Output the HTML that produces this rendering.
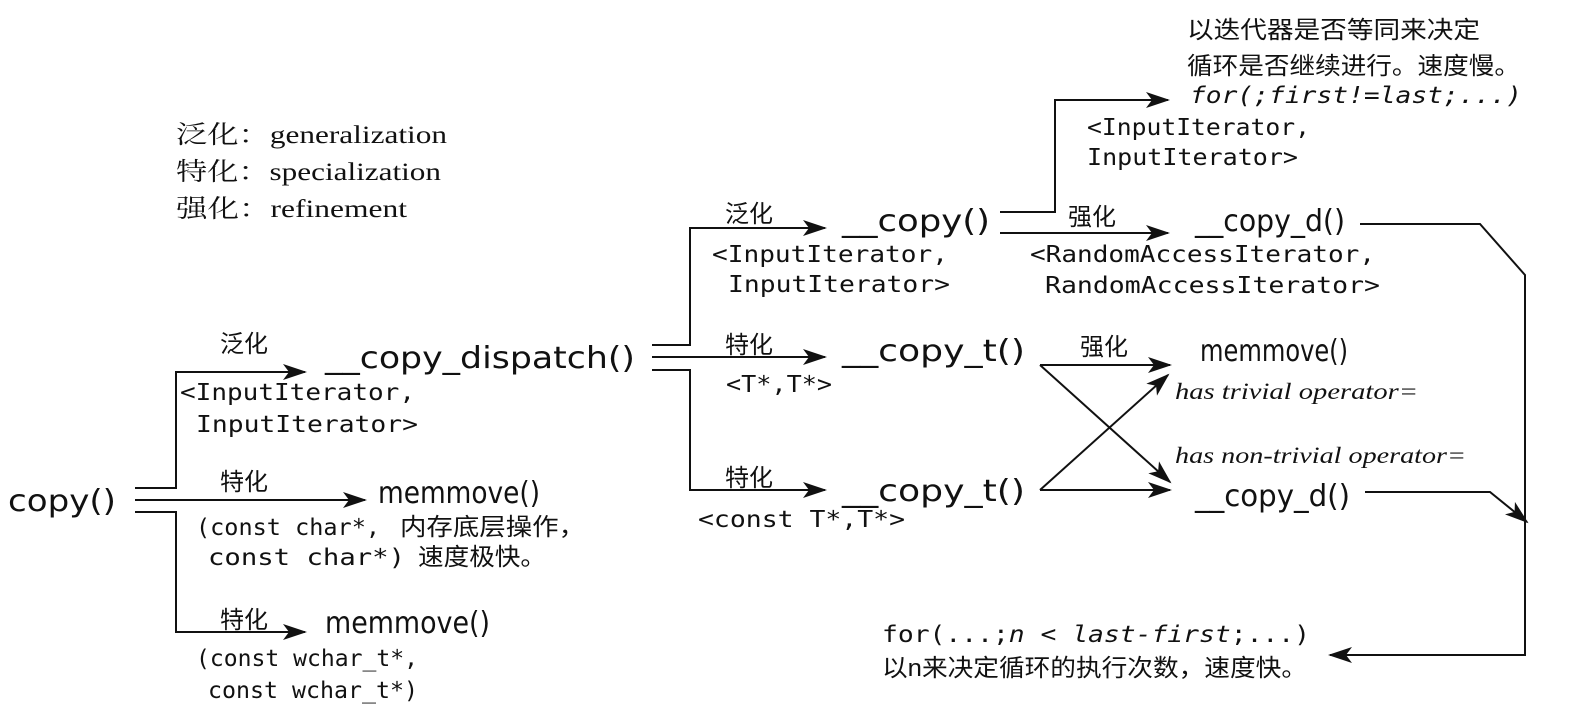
<!DOCTYPE html>
<html><head><meta charset="utf-8"><style>
html,body{margin:0;padding:0;background:#fff;}
svg{display:block}
.c{font-family:"DejaVu Sans Condensed","Liberation Sans",sans-serif;font-size:30px;fill:#111}
.m{font-family:"DejaVu Sans Mono","Liberation Mono",monospace;font-size:23px;fill:#111}
.z{font-family:"Liberation Sans","Noto Sans CJK SC",sans-serif;font-size:24px;fill:#111}
.s{font-family:"Liberation Serif",serif;font-style:italic;font-size:23px;fill:#111}
.l{font-family:"Liberation Serif","Noto Serif CJK SC",serif;font-size:25px;fill:#111}
line,polyline{stroke:#111;stroke-width:2;fill:none}
</style></head><body>
<svg width="1592" height="722" viewBox="0 0 1592 722" xmlns="http://www.w3.org/2000/svg">
<defs><marker id="a" viewBox="0 0 24 16" refX="22" refY="8" markerWidth="24" markerHeight="16" markerUnits="userSpaceOnUse" orient="auto"><path d="M0,0 L24,8 L0,16 L6,8 Z" fill="#111"/></marker></defs>

<text class="l" x="176" y="143" textLength="271" lengthAdjust="spacingAndGlyphs">泛化：generalization</text>
<text class="l" x="176" y="180" textLength="265" lengthAdjust="spacingAndGlyphs">特化：specialization</text>
<text class="l" x="176" y="217" textLength="231" lengthAdjust="spacingAndGlyphs">强化：refinement</text>

<text class="c" x="8" y="511" textLength="108" lengthAdjust="spacingAndGlyphs">copy()</text>
<polyline points="135,488 176,488 176,372 305,372" marker-end="url(#a)"/>
<line x1="135" y1="500" x2="365" y2="500" marker-end="url(#a)"/>
<polyline points="135,512 176,512 176,632 305,632" marker-end="url(#a)"/>

<text class="z" x="220" y="352">泛化</text>
<text class="c" x="325" y="368" textLength="310" lengthAdjust="spacingAndGlyphs">__copy_dispatch()</text>
<text class="m" x="180" y="400" textLength="235" lengthAdjust="spacingAndGlyphs">&lt;InputIterator,</text>
<text class="m" x="196" y="432" textLength="222" lengthAdjust="spacingAndGlyphs">InputIterator&gt;</text>

<text class="z" x="220" y="490">特化</text>
<text class="c" x="378" y="503" textLength="162" lengthAdjust="spacingAndGlyphs">memmove()</text>
<text class="m" x="196" y="535" textLength="184" lengthAdjust="spacingAndGlyphs">(const char*,</text><text class="z" x="400" y="535" textLength="185" lengthAdjust="spacingAndGlyphs">内存底层操作，</text>
<text class="m" x="208" y="565" textLength="197" lengthAdjust="spacingAndGlyphs">const char*)</text><text class="z" x="418" y="565" textLength="128" lengthAdjust="spacingAndGlyphs">速度极快。</text>

<text class="z" x="220" y="628">特化</text>
<text class="c" x="325" y="633" textLength="165" lengthAdjust="spacingAndGlyphs">memmove()</text>
<text class="m" x="196" y="666" textLength="222" lengthAdjust="spacingAndGlyphs">(const wchar_t*,</text>
<text class="m" x="208" y="698" textLength="210" lengthAdjust="spacingAndGlyphs">const wchar_t*)</text>

<polyline points="652,345 690,345 690,228 825,228" marker-end="url(#a)"/>
<line x1="652" y1="357" x2="825" y2="357" marker-end="url(#a)"/>
<polyline points="652,370 690,370 690,490 825,490" marker-end="url(#a)"/>

<text class="z" x="725" y="222">泛化</text>
<text class="c" x="842" y="231" textLength="148" lengthAdjust="spacingAndGlyphs">__copy()</text>
<text class="m" x="712" y="262" textLength="236" lengthAdjust="spacingAndGlyphs">&lt;InputIterator,</text>
<text class="m" x="728" y="292" textLength="222" lengthAdjust="spacingAndGlyphs">InputIterator&gt;</text>

<text class="z" x="725" y="353">特化</text>
<text class="c" x="842" y="361" textLength="183" lengthAdjust="spacingAndGlyphs">__copy_t()</text>
<text class="m" x="726" y="392" textLength="106" lengthAdjust="spacingAndGlyphs">&lt;T*,T*&gt;</text>

<text class="z" x="725" y="486">特化</text>
<text class="c" x="842" y="501" textLength="183" lengthAdjust="spacingAndGlyphs">__copy_t()</text>
<text class="m" x="698" y="527" textLength="207" lengthAdjust="spacingAndGlyphs">&lt;const T*,T*&gt;</text>

<polyline points="1000,212 1055,212 1055,100 1168,100" marker-end="url(#a)"/>
<line x1="1000" y1="233" x2="1168" y2="233" marker-end="url(#a)"/>
<text class="z" x="1068" y="225">强化</text>

<text class="z" x="1187" y="38" textLength="293" lengthAdjust="spacingAndGlyphs">以迭代器是否等同来决定</text>
<text class="z" x="1187" y="74" textLength="333" lengthAdjust="spacingAndGlyphs">循环是否继续进行。速度慢。</text>
<text class="m" style="font-style:italic" x="1190" y="103" textLength="332" lengthAdjust="spacingAndGlyphs">for(;first!=last;...)</text>
<text class="m" x="1087" y="135" textLength="223" lengthAdjust="spacingAndGlyphs">&lt;InputIterator,</text>
<text class="m" x="1087" y="165" textLength="211" lengthAdjust="spacingAndGlyphs">InputIterator&gt;</text>

<text class="c" x="1195" y="231" textLength="150" lengthAdjust="spacingAndGlyphs">__copy_d()</text>
<text class="m" x="1030" y="262" textLength="345" lengthAdjust="spacingAndGlyphs">&lt;RandomAccessIterator,</text>
<text class="m" x="1045" y="293" textLength="335" lengthAdjust="spacingAndGlyphs">RandomAccessIterator&gt;</text>
<polyline points="1360,224 1480,224 1525,275 1525,655 1330,655" marker-end="url(#a)"/>

<line x1="1040" y1="365" x2="1170" y2="365" marker-end="url(#a)"/>
<text class="z" x="1080" y="355">强化</text>
<line x1="1040" y1="365" x2="1170" y2="482" marker-end="url(#a)"/>
<line x1="1040" y1="490" x2="1170" y2="490" marker-end="url(#a)"/>
<line x1="1040" y1="490" x2="1168" y2="375" marker-end="url(#a)"/>

<text class="c" x="1200" y="361" textLength="148" lengthAdjust="spacingAndGlyphs">memmove()</text>
<text class="s" x="1175" y="399" textLength="243" lengthAdjust="spacingAndGlyphs">has trivial operator=</text>
<text class="s" x="1175" y="463" textLength="291" lengthAdjust="spacingAndGlyphs">has non-trivial operator=</text>
<text class="c" x="1195" y="506" textLength="155" lengthAdjust="spacingAndGlyphs">__copy_d()</text>
<polyline points="1365,492 1490,492 1527,522" marker-end="url(#a)"/>

<text class="m" x="882" y="642" textLength="428" lengthAdjust="spacingAndGlyphs">for(...;<tspan font-style="italic">n &lt; last-first</tspan>;...)</text>
<text class="z" x="882" y="676" textLength="425" lengthAdjust="spacingAndGlyphs">以n来决定循环的执行次数，速度快。</text>
</svg>
</body></html>
